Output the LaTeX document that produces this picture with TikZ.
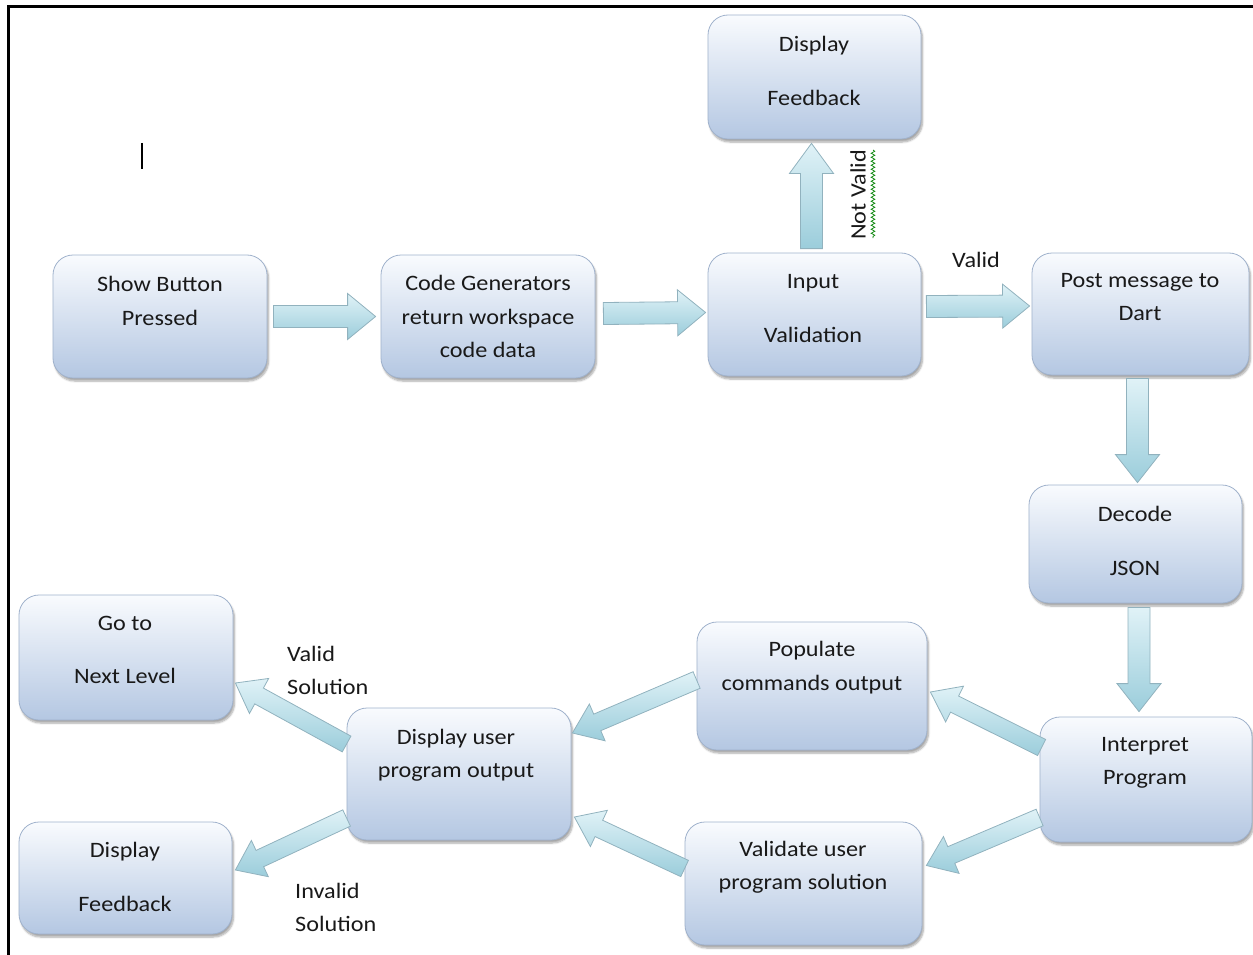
\documentclass[tikz,border=0pt]{standalone}
\usepackage{fontspec}
\setmainfont{Carlito}[FakeStretch=1.1]
\usetikzlibrary{calc,shadows.blur,decorations.pathmorphing}

\definecolor{boxtop}{RGB}{249,251,254}
\definecolor{boxbot}{RGB}{180,199,226}
\definecolor{boxline}{RGB}{160,178,204}
\definecolor{arrowtop}{RGB}{224,242,247}
\definecolor{arrowbot}{RGB}{155,205,219}
\definecolor{arrowline}{RGB}{145,178,190}
\definecolor{textcol}{RGB}{25,25,25}

% block arrow: #1 tail, #2 tip, #3 shaft half width, #4 head half width, #5 head length
\newcommand\blockarrow[5]{%
  \path ($(#2)!#5!(#1)$) coordinate (bah);
  \path[arrowbody]
    ($(#1)!#3!90:(#2)$) -- ($(bah)!#3!90:(#2)$) -- ($(bah)!#4!90:(#2)$) --
    (#2) -- ($(bah)!#4!-90:(#2)$) -- ($(bah)!#3!-90:(#2)$) --
    ($(#1)!#3!-90:(#2)$) -- cycle;
}

\tikzset{
  stepbox/.style={rectangle, rounded corners=20pt, draw=boxline, line width=0.8pt,
    top color=boxtop, bottom color=boxbot,
    blur shadow={shadow xshift=1.5pt, shadow yshift=-3pt, shadow blur steps=6, shadow opacity=35}},
  txt/.style={font=\fontsize{22}{33.5}\selectfont, align=center, inner sep=0pt, text=textcol},
  lbl/.style={font=\fontsize{22}{33.5}\selectfont, align=left, inner sep=0pt, text=textcol},
  arrowbody/.style={draw=arrowline, line width=0.8pt, line join=miter,
    top color=arrowtop, bottom color=arrowbot},
}

\begin{document}
\begin{tikzpicture}[x=1pt, y=-1pt]
\useasboundingbox (0,0) rectangle (1253,955);

% page frame
\draw[line width=3pt] (8.3,955) -- (8.3,7) -- (1253,7);
% text cursor
\draw[line width=2.6pt, black] (142,143) -- (142,169);

% process boxes
\node[stepbox, minimum width=214, minimum height=123] (show)     at (160,316.5) {};
\node[stepbox, minimum width=214, minimum height=123] (code)     at (488,316.5) {};
\node[stepbox, minimum width=213, minimum height=123] (input)    at (814.5,314.5) {};
\node[stepbox, minimum width=213, minimum height=124] (fbtop)    at (814.5,77) {};
\node[stepbox, minimum width=217, minimum height=122] (post)     at (1140.5,314) {};
\node[stepbox, minimum width=213, minimum height=118] (decode)   at (1135.5,544) {};
\node[stepbox, minimum width=212, minimum height=125] (interp)   at (1146,779.5) {};
\node[stepbox, minimum width=230, minimum height=128] (populate) at (812,686) {};
\node[stepbox, minimum width=237, minimum height=123] (validate) at (803.5,883.5) {};
\node[stepbox, minimum width=224, minimum height=132] (dispuser) at (459,774) {};
\node[stepbox, minimum width=214, minimum height=125] (goto)     at (126,657.5) {};
\node[stepbox, minimum width=213, minimum height=112] (fbbot)    at (125.5,878) {};

% box texts
\node[txt] (show-t)     at (160,301)    {Show Button\\Pressed};
\node[txt] (code-t)     at (488,316.5)  {Code Generators\\return workspace\\code data};
\node[txt] (input-t)    at (813,308.5)  {Input\\[20pt]Validation};
\node[txt] (fbtop-t)    at (814,71)     {Display\\[20pt]Feedback};
\node[txt] (post-t)     at (1140,297)   {Post message to\\Dart};
\node[txt] (decode-t)   at (1135,541)   {Decode\\[20pt]JSON};
\node[txt] (interp-t)   at (1145,763)   {Interpret\\Program};
\node[txt] (populate-t) at (812,667.5)  {Populate\\commands output};
\node[txt] (validate-t) at (803,867)    {Validate user\\program solution};
\node[txt] (dispuser-t) at (456,755)    {Display user\\program output};
\node[txt] (goto-t)     at (125,650)    {Go to\\[20pt]Next Level};
\node[txt] (fbbot-t)    at (125,877)    {Display\\[20pt]Feedback};

% arrow end points
\coordinate (a1s) at ($(show.east)+(6,0)$);
\coordinate (a1e) at ($(code.west)+(-5,0)$);
\coordinate (a2s) at ($(code.east)+(8,-3)$);
\coordinate (a2e) at ($(input.west)+(-2,-2)$);
\coordinate (a3s) at ($(input.east)+(5,-8)$);
\coordinate (a3e) at ($(post.west)+(-2,-8)$);
\coordinate (a4s) at ($(input.north)+(-3,-4)$);
\coordinate (a4e) at ($(fbtop.south)+(-3,4)$);
\coordinate (a5s) at ($(post.south)+(-3,3)$);
\coordinate (a5e) at ($(decode.north)+(2,-2)$);
\coordinate (a6s) at ($(decode.south)+(3.5,4)$);
\coordinate (a6e) at ($(interp.north)+(-7,-5)$);
\coordinate (a7s) at ($(interp.west)+(2,-32)$);
\coordinate (a7e) at ($(populate.east)+(3,6)$);
\coordinate (a8s) at ($(populate.west)+(0,-6)$);
\coordinate (a8e) at ($(dispuser.east)+(1,-41)$);
\coordinate (a9s) at ($(interp.west)+(0,38)$);
\coordinate (a9e) at ($(validate.east)+(4,-18)$);
\coordinate (a10s) at ($(validate.west)+(0,-15)$);
\coordinate (a10e) at ($(dispuser.east)+(3,43)$);
\coordinate (a11s) at ($(dispuser.west)+(0,-30)$);
\coordinate (a11e) at ($(goto.east)+(2,25.5)$);
\coordinate (a12s) at ($(dispuser.west)+(0,44)$);
\coordinate (a12e) at ($(fbbot.east)+(3,-8)$);

% connectors
\blockarrow{a1s}{a1e}{11pt}{23pt}{28pt}
\blockarrow{a2s}{a2e}{11pt}{23pt}{28pt}
\blockarrow{a3s}{a3e}{11pt}{22pt}{27pt}
\blockarrow{a4s}{a4e}{11pt}{22pt}{30pt}
\blockarrow{a5s}{a5e}{11pt}{22pt}{28pt}
\blockarrow{a6s}{a6e}{11pt}{22pt}{28pt}
\blockarrow{a7s}{a7e}{9pt}{20pt}{27pt}
\blockarrow{a8s}{a8e}{9pt}{20pt}{27pt}
\blockarrow{a9s}{a9e}{9pt}{20pt}{27pt}
\blockarrow{a10s}{a10e}{9pt}{20pt}{27pt}
\blockarrow{a11s}{a11e}{9pt}{20pt}{27pt}
\blockarrow{a12s}{a12e}{9pt}{20pt}{27pt}

% connector labels
\node[txt] (valid) at (976,260) {Valid};
\node[txt, rotate=90] (notvalid) at (858,195) {Not Valid};
\draw[green!50!black, line width=0.7pt, decorate,
      decoration={snake, amplitude=1.8pt, segment length=4pt}] (873,150) -- (873,238);
\node[lbl, anchor=west] (validsol) at (287,670.5) {Valid\\Solution};
\node[lbl, anchor=west] (invalidsol) at (295,907.5) {Invalid\\Solution};
\end{tikzpicture}
\end{document}
